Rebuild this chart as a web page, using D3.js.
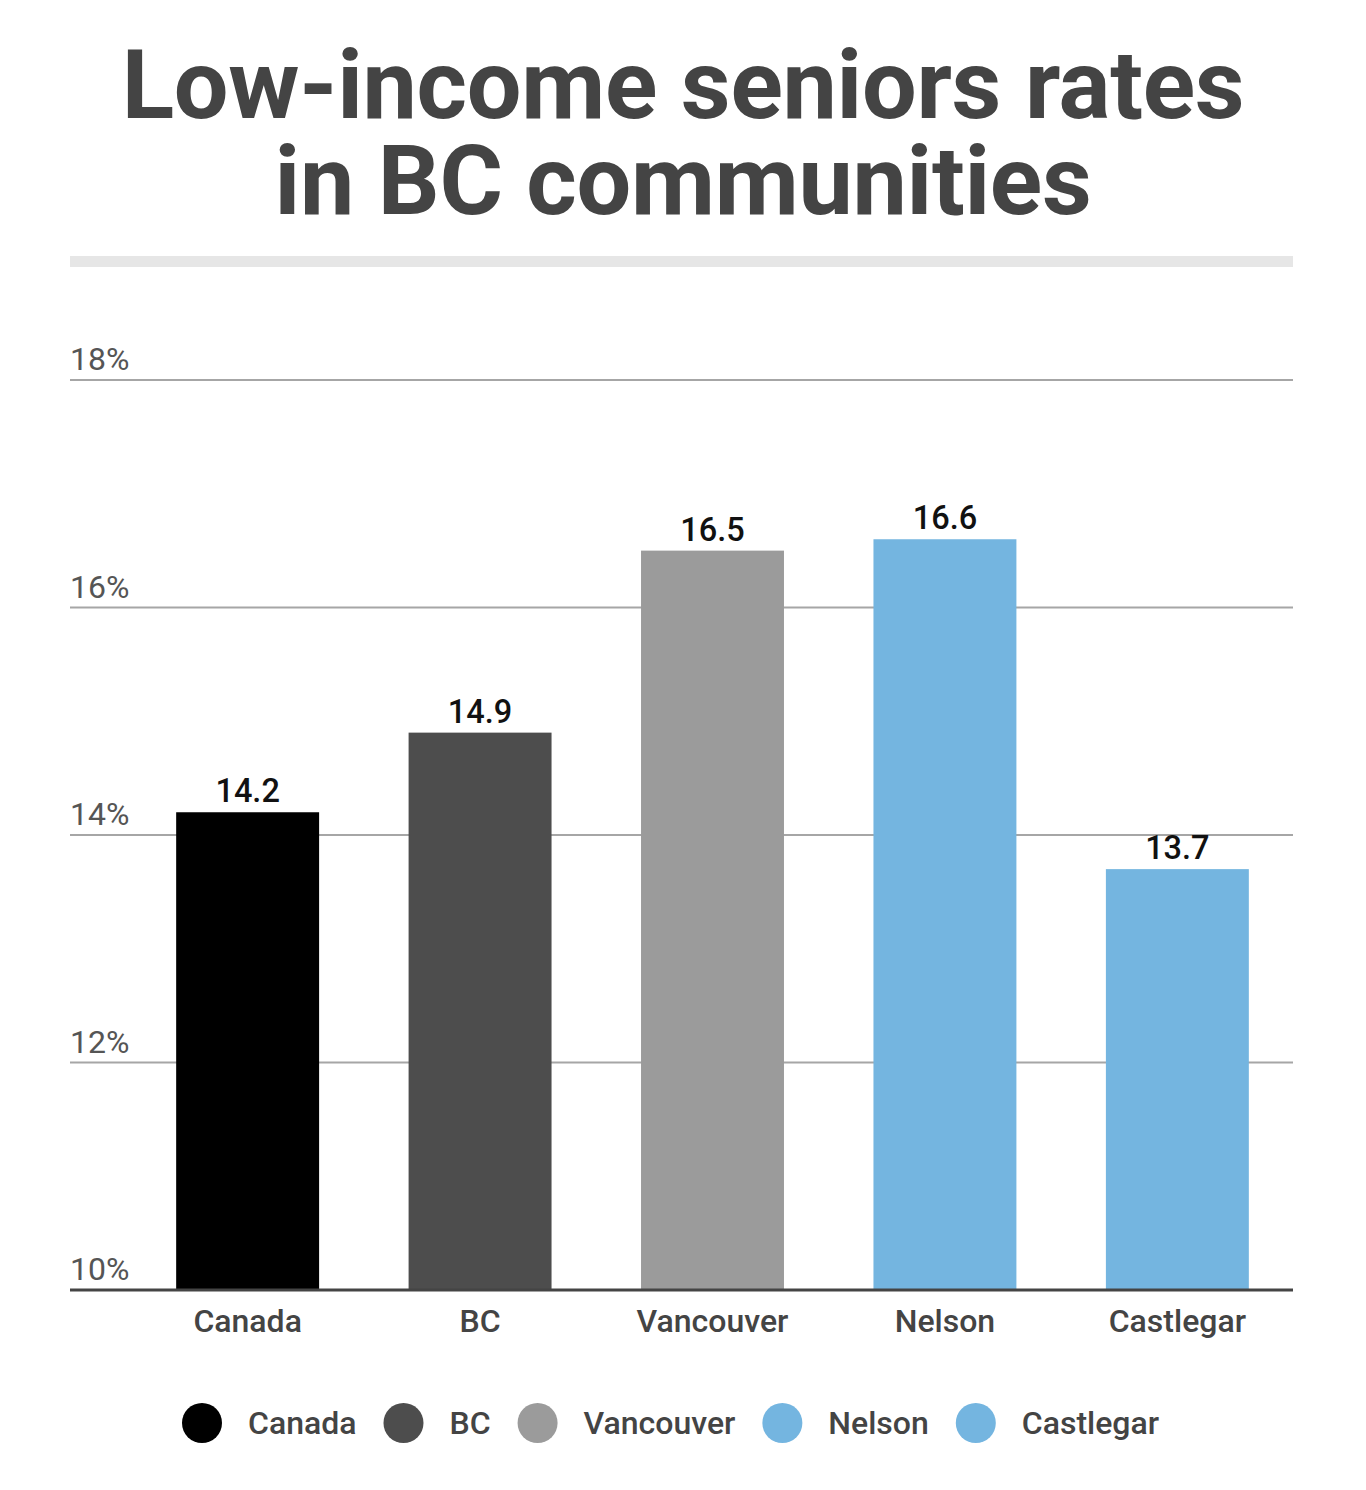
<!DOCTYPE html>
<html>
<head>
<meta charset="utf-8">
<script src="https://cdn.jsdelivr.net/npm/d3@7"></script>
<style>
  html, body { margin: 0; padding: 0; background: #fff; }
  svg { display: block; font-family: Roboto, "Noto Sans", sans-serif; }
</style>
</head>
<body>
<svg id="chart" width="1366" height="1490"></svg>
<script>
const categories = ["Canada", "BC", "Vancouver", "Nelson", "Castlegar"];
const values = [14.2, 14.9, 16.5, 16.6, 13.7];
const colors = ["#000000", "#4d4d4d", "#9b9b9b", "#74b5e0", "#74b5e0"];
const yTicks = [10, 12, 14, 16, 18];
const titleLines = ["Low-income seniors rates", "in BC communities"];

const svg = d3.select("#chart");

// Title
svg.selectAll("text.title").data(titleLines).join("text")
  .attr("class", "title")
  .attr("x", 683)
  .attr("y", (d, i) => 118 + i * 96)
  .attr("text-anchor", "middle")
  .attr("font-size", 97)
  .attr("letter-spacing", -0.3)
  .attr("font-weight", 700)
  .attr("fill", "#444444")
  .text(d => d);

// Separator band
svg.append("rect").attr("x", 70).attr("y", 256).attr("width", 1223).attr("height", 11).attr("fill", "#e6e6e6");

const y = d3.scaleLinear().domain([10, 18]).range([1290, 380]);
const x = d3.scaleBand().domain(categories).range([132, 1293]).paddingInner(0.385).paddingOuter(0.19);

// Grid lines
svg.append("g").selectAll("line").data(yTicks.filter(t => t !== 10)).join("line")
  .attr("x1", 70).attr("x2", 1293)
  .attr("y1", d => y(d)).attr("y2", d => y(d))
  .attr("stroke", "#a6a6a6").attr("stroke-width", 2);

// Tick labels
svg.append("g").selectAll("text").data(yTicks).join("text")
  .attr("x", 70).attr("y", d => y(d) - 10)
  .attr("font-size", 32).attr("fill", "#555555")
  .text(d => d + "%");

// Bars
svg.append("g").selectAll("rect").data(categories).join("rect")
  .attr("x", d => x(d)).attr("width", x.bandwidth())
  .attr("y", (d, i) => y(values[i]))
  .attr("height", (d, i) => y(10) - y(values[i]))
  .attr("fill", (d, i) => colors[i]);

// Value labels
svg.append("g").selectAll("text").data(categories).join("text")
  .attr("x", d => x(d) + x.bandwidth() / 2)
  .attr("y", (d, i) => y(values[i]) - 10)
  .attr("text-anchor", "middle")
  .attr("font-size", 32.5).attr("font-weight", 500).attr("fill", "#111")
  .text((d, i) => values[i].toFixed(1));

// Baseline axis
svg.append("line").attr("x1", 70).attr("x2", 1293).attr("y1", y(10)).attr("y2", y(10))
  .attr("stroke", "#444444").attr("stroke-width", 3);

// Category labels
svg.append("g").selectAll("text").data(categories).join("text")
  .attr("x", d => x(d) + x.bandwidth() / 2)
  .attr("y", 1332)
  .attr("text-anchor", "middle")
  .attr("font-size", 32).attr("font-weight", 500).attr("fill", "#444444")
  .text(d => d);

// Legend
const lg = svg.append("g");
let cx = 202;
categories.forEach((c, i) => {
  lg.append("circle").attr("cx", cx).attr("cy", 1423).attr("r", 20).attr("fill", colors[i]);
  const t = lg.append("text").attr("x", cx + 46).attr("y", 1434)
    .attr("font-size", 32).attr("font-weight", 500).attr("fill", "#444444").text(c);
  const w = t.node().getComputedTextLength();
  cx = cx + 46 + w + 47;
});
</script>
</body>
</html>
